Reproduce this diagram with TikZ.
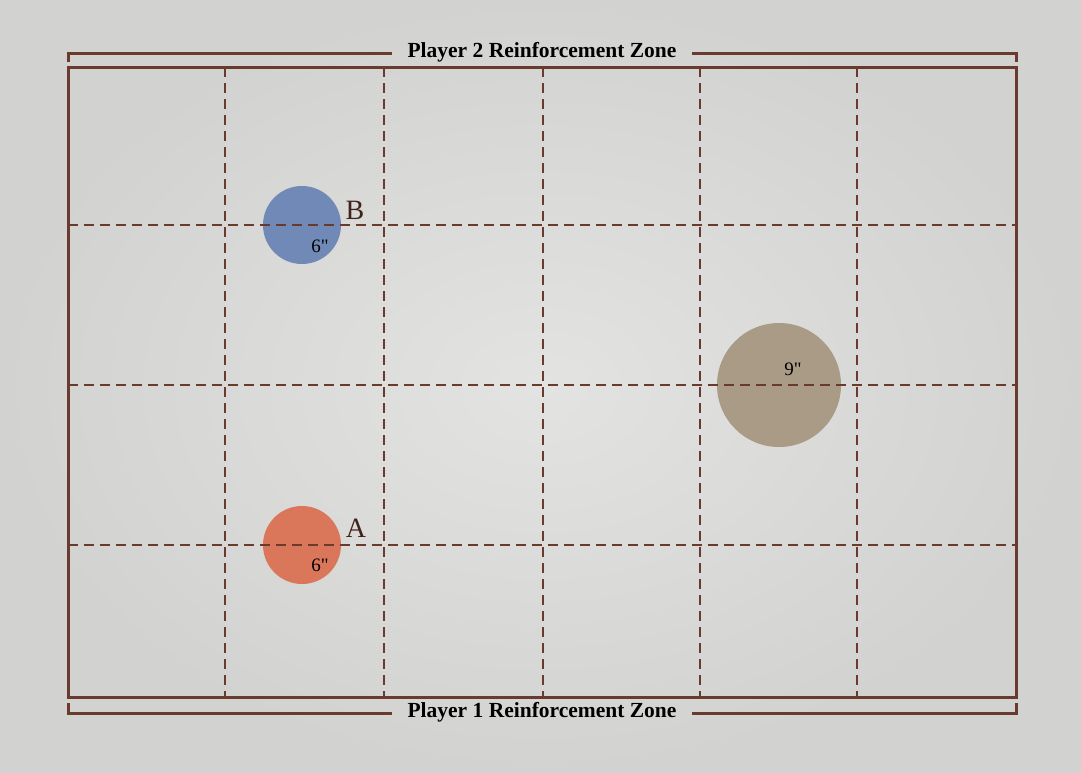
\documentclass[tikz,border=0pt]{standalone}
\usepackage{fontspec}
\setmainfont{Liberation Serif}
\newfontfamily\sizefont{Liberation Serif}[Ligatures=TeXOff]
\definecolor{bgc}{HTML}{E3E3E1}
\definecolor{bgedge}{HTML}{D2D2D0}
\definecolor{linec}{HTML}{6B3A2E}
\definecolor{bluec}{HTML}{7189B6}
\definecolor{redc}{HTML}{DA775B}
\definecolor{tanc}{HTML}{A99B85}
\tikzset{
  boardline/.style={draw=linec, line width=3pt},
  gridline/.style={draw=linec, line width=2pt, dash pattern=on 10pt off 6pt},
  zonelabel/.style={font=\bfseries\fontsize{21.5}{24}\selectfont, text=black, inner sep=0pt},
  objlabel/.style={font=\fontsize{28}{31}\selectfont, text=linec!60!black, inner sep=0pt},
  sizelabel/.style={font=\sizefont\fontsize{19}{22}\selectfont, text=black, inner sep=0pt},
}
\begin{document}
\begin{tikzpicture}[x=1pt,y=-1pt]
\shade[inner color=bgc, outer color=bgedge] (0,0) rectangle (1081,772);
\useasboundingbox (0,0) rectangle (1081,772);
% circles
\fill[bluec] (302,225) circle (39);
\fill[redc] (302,545) circle (39);
\fill[tanc] (779,385) circle (62);
% grid
\foreach \x in {225,384,543,700,857} \draw[gridline] (\x,67) -- (\x,697);
\foreach \y in {225,385,545} \draw[gridline] (68,\y) -- (1016,\y);
% board
\draw[boardline] (68,67) rectangle (1016,697);
% zone labels
\node[zonelabel] (p2) at (542,52) {Player 2 Reinforcement Zone};
\node[zonelabel] (p1) at (542,712) {Player 1 Reinforcement Zone};
\coordinate (p2l) at (68,53); \coordinate (p2r) at (1016,53);
\coordinate (p1l) at (68,713); \coordinate (p1r) at (1016,713);
\draw[boardline, line cap=butt] ([yshift=-9pt]p2l) -- (p2l) -- ([xshift=-15pt]p2.west |- p2l);
\draw[boardline, line cap=butt] ([xshift=15pt]p2.east |- p2r) -- (p2r) -- ([yshift=-9pt]p2r);
\draw[boardline, line cap=butt] ([yshift=10pt]p1l) -- (p1l) -- ([xshift=-15pt]p1.west |- p1l);
\draw[boardline, line cap=butt] ([xshift=15pt]p1.east |- p1r) -- (p1r) -- ([yshift=10pt]p1r);
% object labels
\node[objlabel] (lb) at (355,210) {B};
\node[objlabel] (la) at (356,528) {A};
\node[sizelabel] (sb) at (320,246) {6"};
\node[sizelabel] (sa) at (320,565) {6"};
\node[sizelabel] (sc) at (793,369) {9"};
\end{tikzpicture}
\end{document}
